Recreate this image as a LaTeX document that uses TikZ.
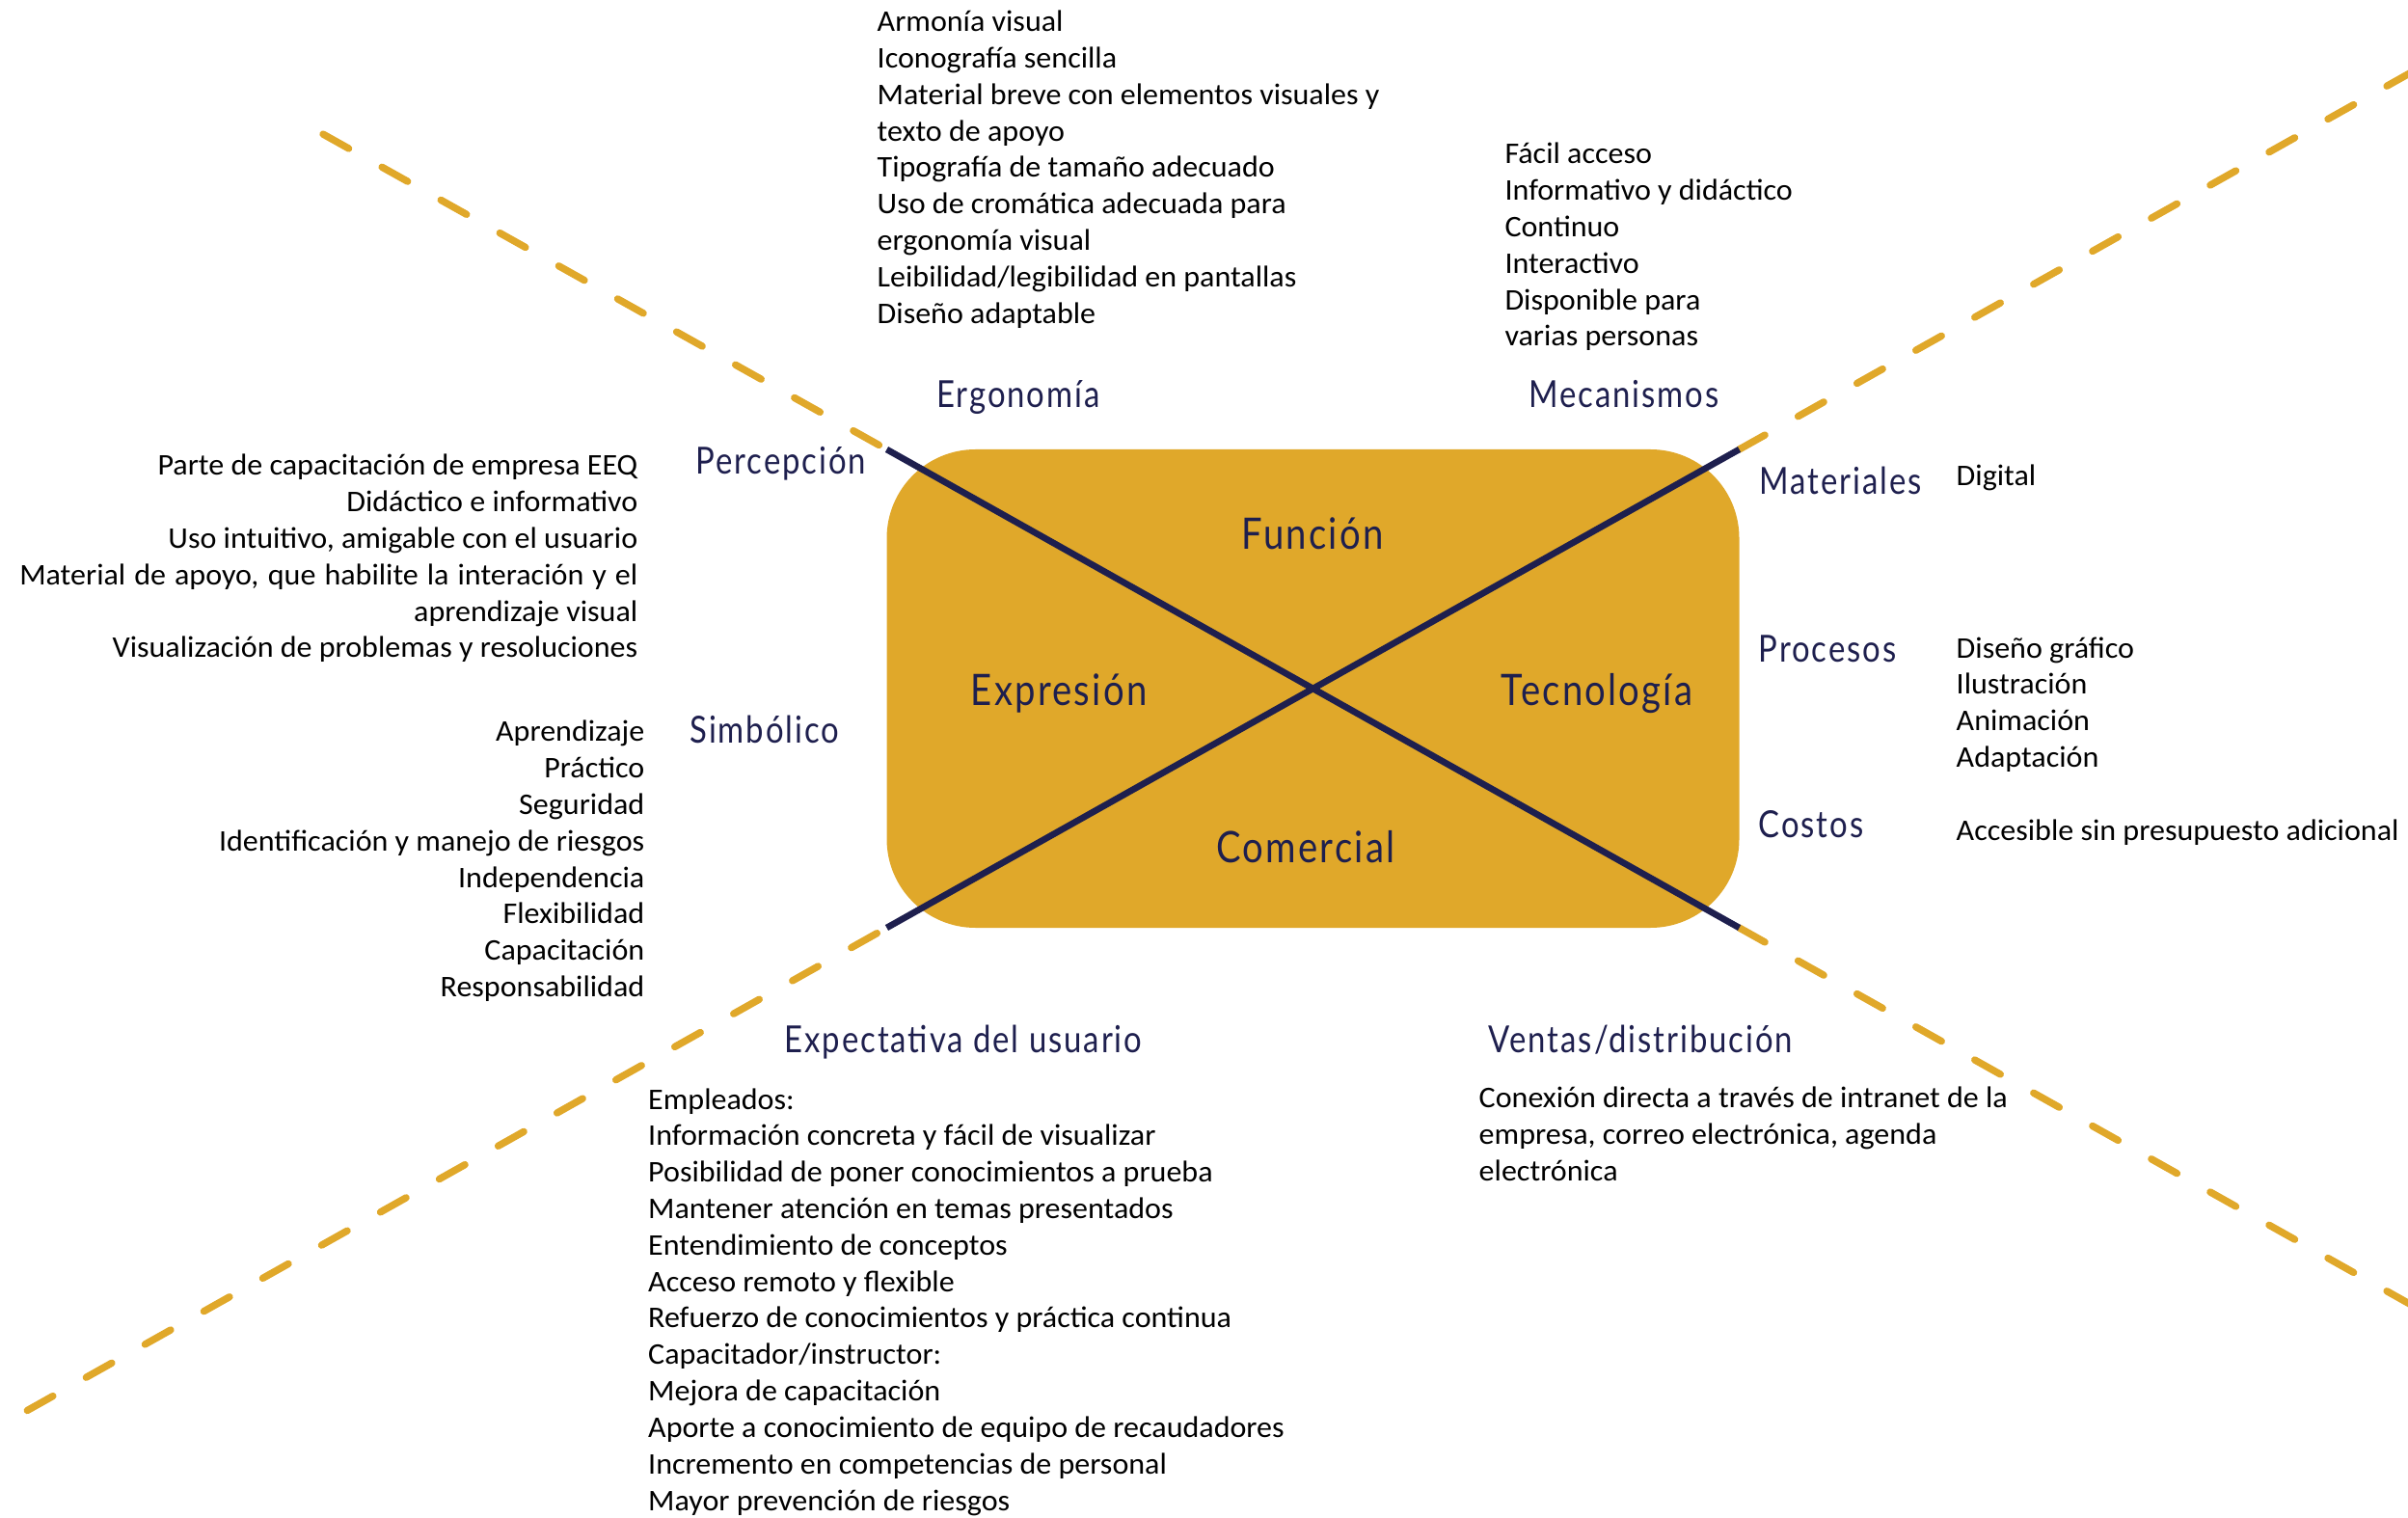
\documentclass[tikz,border=0pt]{standalone}
\usepackage{fontspec}
\setmainfont{Carlito}[FakeStretch=1.03]
\newfontfamily\headfont[FakeStretch=0.85,LetterSpace=5]{Lato}
\definecolor{oro}{HTML}{E0A82A}
\definecolor{marino}{HTML}{1E1F4E}

\begin{document}
\begin{tikzpicture}[
    titulo/.style={font=\headfont\fontsize{11}{13}\selectfont, text=marino, inner sep=0pt},
    eje/.style={font=\headfont\fontsize{12.8}{15}\selectfont, text=marino, inner sep=0pt},
    lista/.style={font=\fontsize{8.85}{10.76}\selectfont, inner sep=0pt},
    guia/.style={oro, line width=2.1pt, line cap=round, dash pattern=on 0.305cm off 0.395cm},
    cruz/.style={marino, line width=1.9pt}
]
    \useasboundingbox (0,0) rectangle (24.97,-15.74);
    \clip (0,0) rectangle (24.97,-15.74);

	%caja
    \fill[oro, rounded corners=0.92cm] (9.195,-4.66) rectangle (18.035,-9.62);

    \coordinate (ai) at (9.195,-4.66);
    \coordinate (ad) at (18.035,-4.66);
    \coordinate (bi) at (9.195,-9.62);
    \coordinate (bd) at (18.035,-9.62);

    \coordinate (ai2) at (3.35,-1.391);
    \coordinate (ad2) at (25.3,-0.584);
    \coordinate (bi2) at (0.283,-14.625);
    \coordinate (bd2) at (25.3,-13.696);

	%lineas
    \draw[guia] (ai2) -- (ai);
    \draw[guia] (ad) -- (ad2);
    \draw[guia] (bi2) -- (bi);
    \draw[guia] (bd) -- (bd2);

    \draw[cruz] (ai) -- (bd);
    \draw[cruz] (bi) -- (ad);

	%ejes
    \node[eje, anchor=base] (funcion) at (13.61,-5.698) {Función};
    \node[eje, anchor=base] (expresion) at (10.98,-7.319) {Expresión};
    \node[eje, anchor=base] (tecnologia) at (16.56,-7.319) {Tecnología};
    \node[eje, anchor=base] (comercial) at (13.54,-8.94) {Comercial};

	%titulos
    \node[titulo, anchor=base] (ergonomia) at (10.56,-4.227) {Ergonomía};
    \node[titulo, anchor=base] (mecanismos) at (16.84,-4.227) {Mecanismos};
    \node[titulo, anchor=base west] (percepcion) at (7.207,-4.913) {Percepción};
    \node[titulo, anchor=base west] (simbolico) at (7.148,-7.708) {Simbólico};
    \node[titulo, anchor=base west] (materiales) at (18.24,-5.127) {Materiales};
    \node[titulo, anchor=base west] (procesos) at (18.23,-6.867) {Procesos};
    \node[titulo, anchor=base west] (costos) at (18.23,-8.683) {Costos};
    \node[titulo, anchor=base] (expectativa) at (9.99,-10.918) {Expectativa del usuario};
    \node[titulo, anchor=base west] (ventas) at (15.432,-10.917) {Ventas/distribución};

	%listas (base = ultima linea)
    \node[lista, anchor=base west, align=left] (l-ergo) at (9.09,-3.352) {Armonía visual\\Iconografía sencilla\\Material breve con elementos visuales y\\texto de apoyo\\Tipografía de tamaño adecuado\\Uso de cromática adecuada para\\ergonomía visual\\Leibilidad/legibilidad en pantallas\\Diseño adaptable};
    \node[lista, anchor=base west, align=left] (l-meca) at (15.598,-3.59) {Fácil acceso\\Informativo y didáctico\\Continuo\\Interactivo\\Disponible para\\varias personas};
    \node[lista, anchor=base east, align=right] (l-perc) at (6.62,-6.82) {Parte de capacitación de empresa EEQ\\Didáctico e informativo\\Uso intuitivo, amigable con el usuario\\\makebox[6.41cm][s]{Material de apoyo, que habilite la interación y el}\\aprendizaje visual\\Visualización de problemas y resoluciones};
    \node[lista, anchor=base east, align=right] (l-simb) at (6.69,-10.335) {Aprendizaje\\Práctico\\Seguridad\\Identificación y manejo de riesgos\\Independencia\\Flexibilidad\\Capacitación\\Responsabilidad};
    \node[lista, anchor=base west] (l-mat) at (20.28,-5.038) {Digital};
    \node[lista, anchor=base west, align=left] (l-proc) at (20.28,-7.955) {Diseño gráfico\\Ilustración\\Animación\\Adaptación};
    \node[lista, anchor=base west] (l-cost) at (20.28,-8.717) {Accesible sin presupuesto adicional};
    \node[lista, anchor=base west, align=left] (l-expe) at (6.715,-15.66) {Empleados:\\Información concreta y fácil de visualizar\\Posibilidad de poner conocimientos a prueba\\Mantener atención en temas presentados\\Entendimiento de conceptos\\Acceso remoto y flexible\\Refuerzo de conocimientos y práctica continua\\Capacitador/instructor:\\Mejora de capacitación\\Aporte a conocimiento de equipo de recaudadores\\Incremento en competencias de personal\\Mayor prevención de riesgos};
    \node[lista, anchor=base west, align=left] (l-vent) at (15.33,-12.245) {Conexión directa a través de intranet de la\\empresa, correo electrónica, agenda\\electrónica};

\end{tikzpicture}
\end{document}
